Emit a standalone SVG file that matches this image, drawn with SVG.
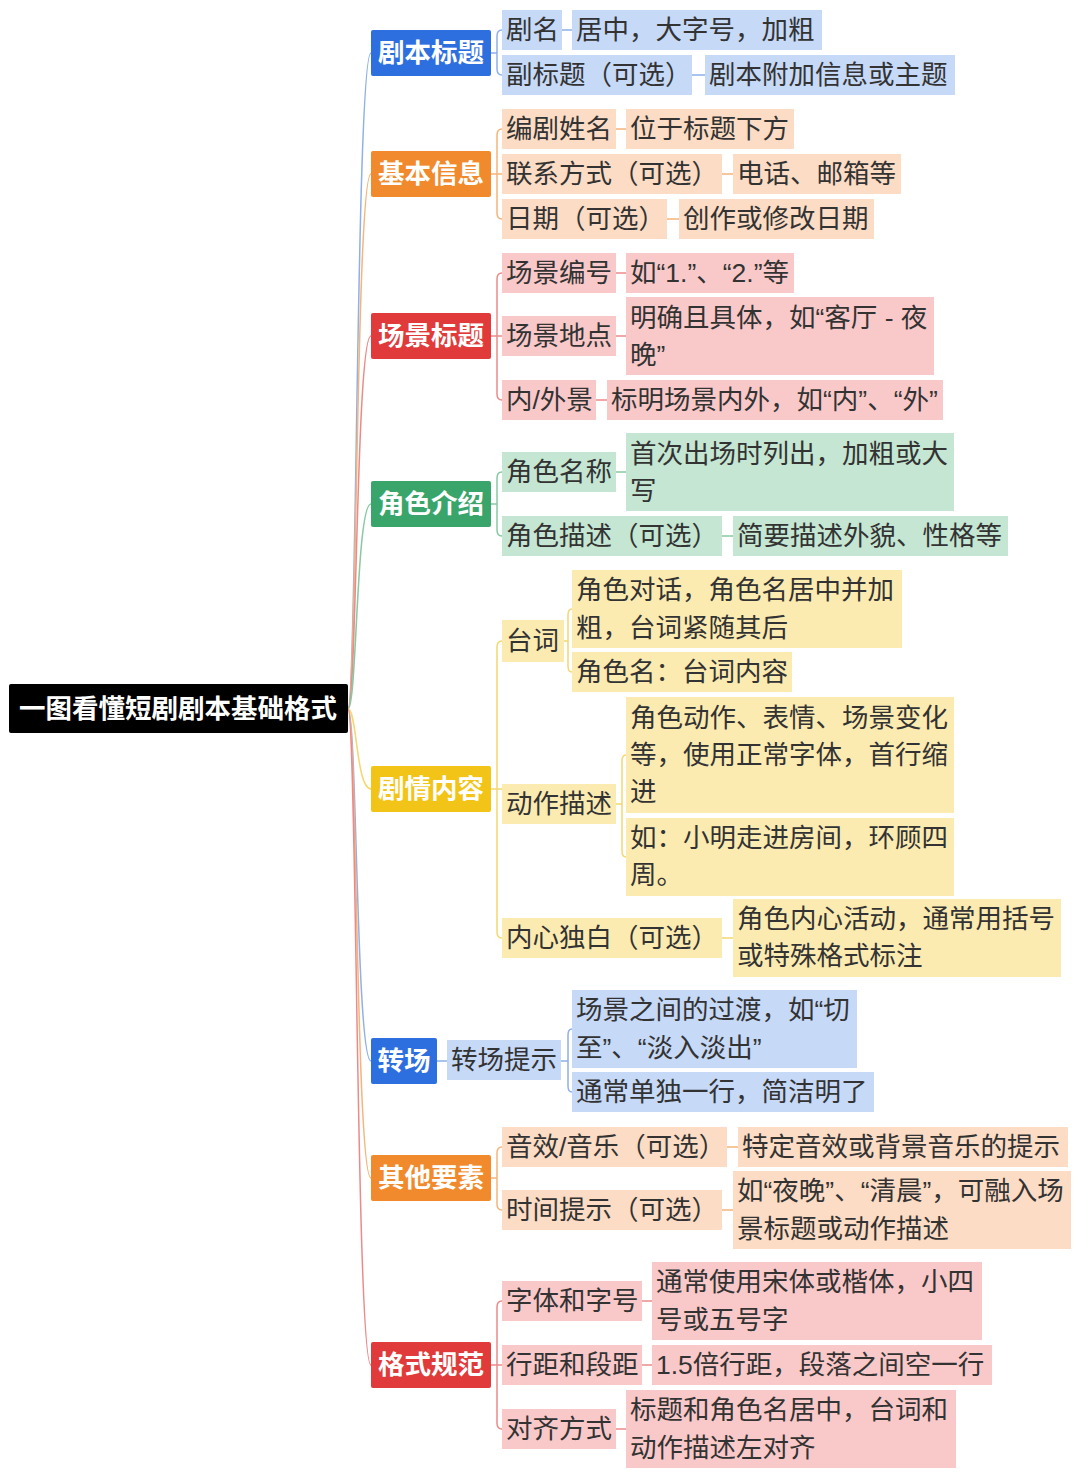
<svg xmlns="http://www.w3.org/2000/svg" width="1080" height="1478" viewBox="0 0 1080 1478">
<style>
text{font-family:"Liberation Sans","Noto Sans CJK SC",sans-serif;font-size:26.5px;fill:#333}
.b text,text.w{fill:#fff;font-weight:bold}
.c path{fill:none;stroke-width:1.5}
.lb{fill:#c6d9f7}.lo{fill:#fcdcc4}.lr{fill:#f9c9c9}.lg{fill:#c4e6d2}.ly{fill:#fcebb0}
</style>
<rect width="1080" height="1478" fill="#fff"/>
<g class="c">
<path stroke="#8fb0e8" d="M348 709C357 709 356 53 371 53"/>
<path stroke="#f5b47a" d="M348 709C357 709 356 174 371 174"/>
<path stroke="#ec8a8a" d="M348 709C357 709 356 336 371 336"/>
<path stroke="#86c9a2" d="M348 709C357 709 356 504 371 504"/>
<path stroke="#f4d770" d="M348 709C357 709 356 789 371 789"/>
<path stroke="#8fb0e8" d="M348 709C357 709 356 1061 371 1061"/>
<path stroke="#f5b47a" d="M348 709C357 709 356 1178 371 1178"/>
<path stroke="#ec8a8a" d="M348 709C357 709 356 1365 371 1365"/>
<g stroke="#8fb0e8"><path d="M491 53H497M502 30Q497 30 497 36V69Q497 75 502 75M562 30H572M692 75H705"/></g>
<g stroke="#f5b47a"><path d="M491 174H502M502 129Q497 129 497 135V213Q497 219 502 219M616 129H626M722 174H733M667 219H679"/></g>
<g stroke="#ec8a8a"><path d="M491 336H502M502 273Q497 273 497 279V394Q497 400 502 400M616 273H626M616 336H626M596 400H607"/></g>
<g stroke="#86c9a2"><path d="M491 504H497M502 472Q497 472 497 478V530Q497 536 502 536M616 472H626M722 536H733"/></g>
<g stroke="#f4d770"><path d="M491 789H502M502 641Q497 641 497 647V932Q497 938 502 938M616 804H622M564 641H568M572 609Q568 609 568 615V666Q568 672 572 672M626 755Q622 755 622 761V851Q622 857 626 857M722 938H733"/></g>
<g stroke="#8fb0e8"><path d="M437 1061H447M561 1061H568M572 1029Q568 1029 568 1035V1086Q568 1092 572 1092"/></g>
<g stroke="#f5b47a"><path d="M491 1178H497M502 1147Q497 1147 497 1153V1204Q497 1210 502 1210M727 1147H738M722 1210H733"/></g>
<g stroke="#ec8a8a"><path d="M491 1365H502M502 1301Q497 1301 497 1307V1423Q497 1429 502 1429M642 1301H652M642 1365H652M616 1429H626"/></g>
</g>
<g id="root"><rect x="9" y="684" width="339" height="49" rx="2" fill="#000"/><text class="w" x="178" y="718" text-anchor="middle">一图看懂短剧剧本基础格式</text></g>
<g class="b">
<g id="b1"><rect x="371" y="30" width="120" height="46" rx="2" fill="#2e6fe0"/><text x="431" y="62" text-anchor="middle">剧本标题</text></g>
<g id="b2"><rect x="371" y="151" width="120" height="46" rx="2" fill="#f08a2c"/><text x="431" y="183" text-anchor="middle">基本信息</text></g>
<g id="b3"><rect x="371" y="313" width="120" height="46" rx="2" fill="#e03a3a"/><text x="431" y="345" text-anchor="middle">场景标题</text></g>
<g id="b4"><rect x="371" y="481" width="120" height="46" rx="2" fill="#3aa56a"/><text x="431" y="513" text-anchor="middle">角色介绍</text></g>
<g id="b5"><rect x="371" y="766" width="120" height="46" rx="2" fill="#f2c418"/><text x="431" y="798" text-anchor="middle">剧情内容</text></g>
<g id="b6"><rect x="371" y="1038" width="66" height="46" rx="2" fill="#2e6fe0"/><text x="404" y="1070" text-anchor="middle">转场</text></g>
<g id="b7"><rect x="371" y="1155" width="120" height="46" rx="2" fill="#f08a2c"/><text x="431" y="1187" text-anchor="middle">其他要素</text></g>
<g id="b8"><rect x="371" y="1342" width="120" height="46" rx="2" fill="#e03a3a"/><text x="431" y="1374" text-anchor="middle">格式规范</text></g>
</g>
<g id="n1">
<rect class="lb" x="502" y="10" width="60" height="40"/><text x="506" y="39">剧名</text>
<rect class="lb" x="572" y="10" width="250" height="40"/><text x="576" y="39">居中，大字号，加粗</text>
<rect class="lb" x="502" y="55" width="190" height="40"/><text x="506" y="84">副标题（可选）</text>
<rect class="lb" x="705" y="55" width="250" height="40"/><text x="709" y="84">剧本附加信息或主题</text>
</g>
<g id="n2">
<rect class="lo" x="502" y="109" width="114" height="40"/><text x="506" y="138">编剧姓名</text>
<rect class="lo" x="626" y="109" width="168" height="40"/><text x="630" y="138">位于标题下方</text>
<rect class="lo" x="502" y="154" width="220" height="40"/><text x="506" y="183">联系方式（可选）</text>
<rect class="lo" x="733" y="154" width="168" height="40"/><text x="737" y="183">电话、邮箱等</text>
<rect class="lo" x="502" y="199" width="165" height="40"/><text x="506" y="228">日期（可选）</text>
<rect class="lo" x="679" y="199" width="195" height="40"/><text x="683" y="228">创作或修改日期</text>
</g>
<g id="n3">
<rect class="lr" x="502" y="253" width="114" height="40"/><text x="506" y="282">场景编号</text>
<rect class="lr" x="626" y="253" width="168" height="40"/><text x="630" y="282">如“1.”、“2.”等</text>
<rect class="lr" x="502" y="316" width="114" height="40"/><text x="506" y="345">场景地点</text>
<rect class="lr" x="626" y="297" width="308" height="78"/><text x="630" y="327">明确且具体，如“客厅 - 夜<tspan x="630" y="364">晚”</tspan></text>
<rect class="lr" x="502" y="380" width="94" height="40"/><text x="506" y="409">内/外景</text>
<rect class="lr" x="607" y="380" width="336" height="40"/><text x="611" y="409">标明场景内外，如“内”、“外”</text>
</g>
<g id="n4">
<rect class="lg" x="502" y="452" width="114" height="40"/><text x="506" y="481">角色名称</text>
<rect class="lg" x="626" y="433" width="328" height="78"/><text x="630" y="463">首次出场时列出，加粗或大<tspan x="630" y="500">写</tspan></text>
<rect class="lg" x="502" y="516" width="220" height="40"/><text x="506" y="545">角色描述（可选）</text>
<rect class="lg" x="733" y="516" width="275" height="40"/><text x="737" y="545">简要描述外貌、性格等</text>
</g>
<g id="n5">
<rect class="ly" x="502" y="620" width="62" height="42"/><text x="506" y="650">台词</text>
<rect class="ly" x="572" y="570" width="330" height="78"/><text x="576" y="599">角色对话，角色名居中并加<tspan x="576" y="637">粗，台词紧随其后</tspan></text>
<rect class="ly" x="572" y="652" width="220" height="40"/><text x="576" y="681">角色名：台词内容</text>
<rect class="ly" x="502" y="784" width="114" height="40"/><text x="506" y="813">动作描述</text>
<rect class="ly" x="626" y="697" width="328" height="116"/><text x="630" y="727">角色动作、表情、场景变化<tspan x="630" y="764">等，使用正常字体，首行缩</tspan><tspan x="630" y="801">进</tspan></text>
<rect class="ly" x="626" y="818" width="328" height="78"/><text x="630" y="847">如：小明走进房间，环顾四<tspan x="630" y="884">周。</tspan></text>
<rect class="ly" x="502" y="918" width="220" height="40"/><text x="506" y="947">内心独白（可选）</text>
<rect class="ly" x="733" y="899" width="328" height="78"/><text x="737" y="928">角色内心活动，通常用括号<tspan x="737" y="965">或特殊格式标注</tspan></text>
</g>
<g id="n6">
<rect class="lb" x="447" y="1040" width="114" height="40"/><text x="451" y="1069">转场提示</text>
<rect class="lb" x="572" y="990" width="285" height="78"/><text x="576" y="1019">场景之间的过渡，如“切<tspan x="576" y="1057">至”、“淡入淡出”</tspan></text>
<rect class="lb" x="572" y="1072" width="302" height="40"/><text x="576" y="1101">通常单独一行，简洁明了</text>
</g>
<g id="n7">
<rect class="lo" x="502" y="1127" width="225" height="40"/><text x="506" y="1156">音效/音乐（可选）</text>
<rect class="lo" x="738" y="1127" width="330" height="40"/><text x="742" y="1156">特定音效或背景音乐的提示</text>
<rect class="lo" x="502" y="1190" width="220" height="40"/><text x="506" y="1219">时间提示（可选）</text>
<rect class="lo" x="733" y="1171" width="338" height="78"/><text x="737" y="1200">如“夜晚”、“清晨”，可融入场<tspan x="737" y="1238">景标题或动作描述</tspan></text>
</g>
<g id="n8">
<rect class="lr" x="502" y="1281" width="140" height="40"/><text x="506" y="1310">字体和字号</text>
<rect class="lr" x="652" y="1262" width="330" height="78"/><text x="656" y="1291">通常使用宋体或楷体，小四<tspan x="656" y="1329">号或五号字</tspan></text>
<rect class="lr" x="502" y="1345" width="140" height="40"/><text x="506" y="1374">行距和段距</text>
<rect class="lr" x="652" y="1345" width="340" height="40"/><text x="656" y="1374">1.5倍行距，段落之间空一行</text>
<rect class="lr" x="502" y="1409" width="114" height="40"/><text x="506" y="1438">对齐方式</text>
<rect class="lr" x="626" y="1390" width="330" height="78"/><text x="630" y="1419">标题和角色名居中，台词和<tspan x="630" y="1457">动作描述左对齐</tspan></text>
</g>
</svg>
